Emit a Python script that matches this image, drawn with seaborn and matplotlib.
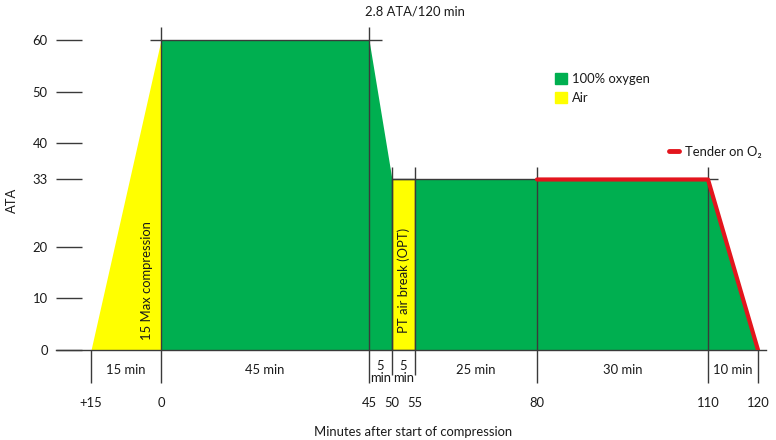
import numpy as np
import matplotlib
matplotlib.use('Agg')
import matplotlib.pyplot as plt
import seaborn as sns
from matplotlib.patches import Patch
from matplotlib.lines import Line2D

# data
tick_min = [-15, 0, 45, 50, 55, 80, 110, 120]
tick_labels = ['+15', '0', '45', '50', '55', '80', '110', '120']
seg_labels = ['15 min', '45 min', '5\nmin', '5\nmin', '25 min', '30 min', '10 min']
ata_ticks = [0, 10, 20, 33, 40, 50, 60]

profile_t = [-15, 0, 45, 50, 55, 110, 120]
profile_ata = [0, 60, 60, 33, 33, 33, 0]
compress_t = [-15, 0]
compress_ata = [0, 60]
oxy1_t = [0, 45, 50]
oxy1_ata = [60, 60, 33]
break_t = [50, 55]
break_ata = [33, 33]
oxy2_t = [55, 110, 120]
oxy2_ata = [33, 33, 0]
tender_t = [80, 110, 120]
tender_ata = [33, 33, 0]

# colours / layout
GREEN = '#00AF50'
YELLOW = '#FFFF00'
RED = '#E3151D'
DARK = '#3a3a3a'
TXT = '#1a1a1a'
FS = 9.4
tick_px = [91, 161, 369, 392, 415, 537, 708, 758]   # where the minute ticks sit on the page
line_drop = [-6.4, -6.4, -6.4, -4.8, -4.8, -6.4, -6.4, -6.4]

sns.set_theme(style='white')
plt.rcParams['font.family'] = ['Lato', 'DejaVu Sans']
plt.rcParams['font.size'] = FS
plt.rcParams['text.color'] = TXT
plt.rcParams['xtick.color'] = TXT
plt.rcParams['ytick.color'] = TXT

# piecewise x scale (the original axis is not evenly spaced)
knot_t = np.array([-40] + tick_min + [145], dtype=float)
knot_px = np.array([91 - 25 * 70 / 15] + tick_px + [758 + 25 * 5], dtype=float)

def fwd(t):
    return np.interp(t, knot_t, knot_px)

def inv(p):
    return np.interp(p, knot_px, knot_t)

fig = plt.figure(figsize=(7.76, 4.4), dpi=100)
ax = fig.add_axes([56 / 776, 90 / 440, 710 / 776, 350 / 440])
ax.set_xscale('function', functions=(fwd, inv))
ax.set_xlim(inv(56), inv(766))
ax.set_ylim(0, 350 / 5.167)

# phases
ax.fill_between(compress_t, compress_ata, color=YELLOW, lw=0)
ax.fill_between(oxy1_t, oxy1_ata, color=GREEN, lw=0)
ax.fill_between(break_t, break_ata, facecolor=YELLOW, edgecolor=DARK, lw=1)
ax.fill_between(oxy2_t, oxy2_ata, color=GREEN, lw=0)
sns.lineplot(x=tender_t, y=tender_ata, color=RED, lw=3, ax=ax, zorder=4)

# vertical guide lines at each tick
level = np.interp(tick_min, profile_t, profile_ata)
tops = np.where(level > 0, level + 2.5, 0)
ax.vlines(tick_min, line_drop, tops, color=DARK, lw=1, clip_on=False, zorder=3)
ax.hlines(60, -2.4, 47.8, color=DARK, lw=1, zorder=3)
ax.hlines(33, 50, 112, color=DARK, lw=1, zorder=3)

# segment durations under the baseline
mids = [(a + b) / 2 for a, b in zip(tick_min[:-1], tick_min[1:])]
for m, s in zip(mids, seg_labels):
    yy = -4.3 if '\n' in s else -3.9
    ax.text(m, yy, s, ha='center', va='center', fontsize=FS,
            linespacing=1.0, clip_on=False)

ax.text(-3.0, 13.5, '15 Max compression', rotation=90, ha='center', va='center',
        fontsize=FS)
ax.text(52.5, 13.4, 'PT air break (OPT)', rotation=90, ha='center', va='center',
        fontsize=FS)

# axes styling
for sp in ['top', 'right', 'left']:
    ax.spines[sp].set_visible(False)
ax.spines['bottom'].set_color(DARK)
ax.spines['bottom'].set_linewidth(1)
ax.set_yticks(ata_ticks)
ax.set_yticklabels([str(v) for v in ata_ticks])
ax.tick_params(axis='y', direction='in', length=18.7, width=1, color=DARK,
               pad=6, labelsize=FS, left=True)
ax.set_xticks(tick_min)
ax.set_xticklabels(tick_labels)
ax.tick_params(axis='x', length=0, pad=34, labelsize=FS)
ax.set_xlabel('')
ax.set_ylabel('')

fig.text(415 / 776, 1 - 11 / 440, '2.8 ATA/120 min', ha='center', va='center', fontsize=FS)
fig.text(413 / 776, 1 - 432 / 440, 'Minutes after start of compression', ha='center',
         va='center', fontsize=FS)
fig.text(12 / 776, 1 - 200 / 440, 'ATA', ha='center', va='center', rotation=90, fontsize=FS)

# legends
leg1 = ax.legend(handles=[Patch(color=GREEN, label='100% oxygen'),
                          Patch(color=YELLOW, label='Air')],
                 loc='upper left', bbox_to_anchor=(555 / 776, 1 - 73 / 440),
                 bbox_transform=fig.transFigure, frameon=False, borderpad=0,
                 borderaxespad=0, handlelength=0.95, handleheight=0.95,
                 handletextpad=0.35, labelspacing=0.5, fontsize=FS)
ax.add_artist(leg1)
ax.legend(handles=[Line2D([], [], color=RED, lw=3.5, label='Tender on O\u2082')],
          loc='upper left', bbox_to_anchor=(669 / 776, 1 - 146 / 440),
          bbox_transform=fig.transFigure, frameon=False, borderpad=0,
          borderaxespad=0, handlelength=0.8, handletextpad=0.45, fontsize=FS)

fig.savefig('out.png', dpi=100)
